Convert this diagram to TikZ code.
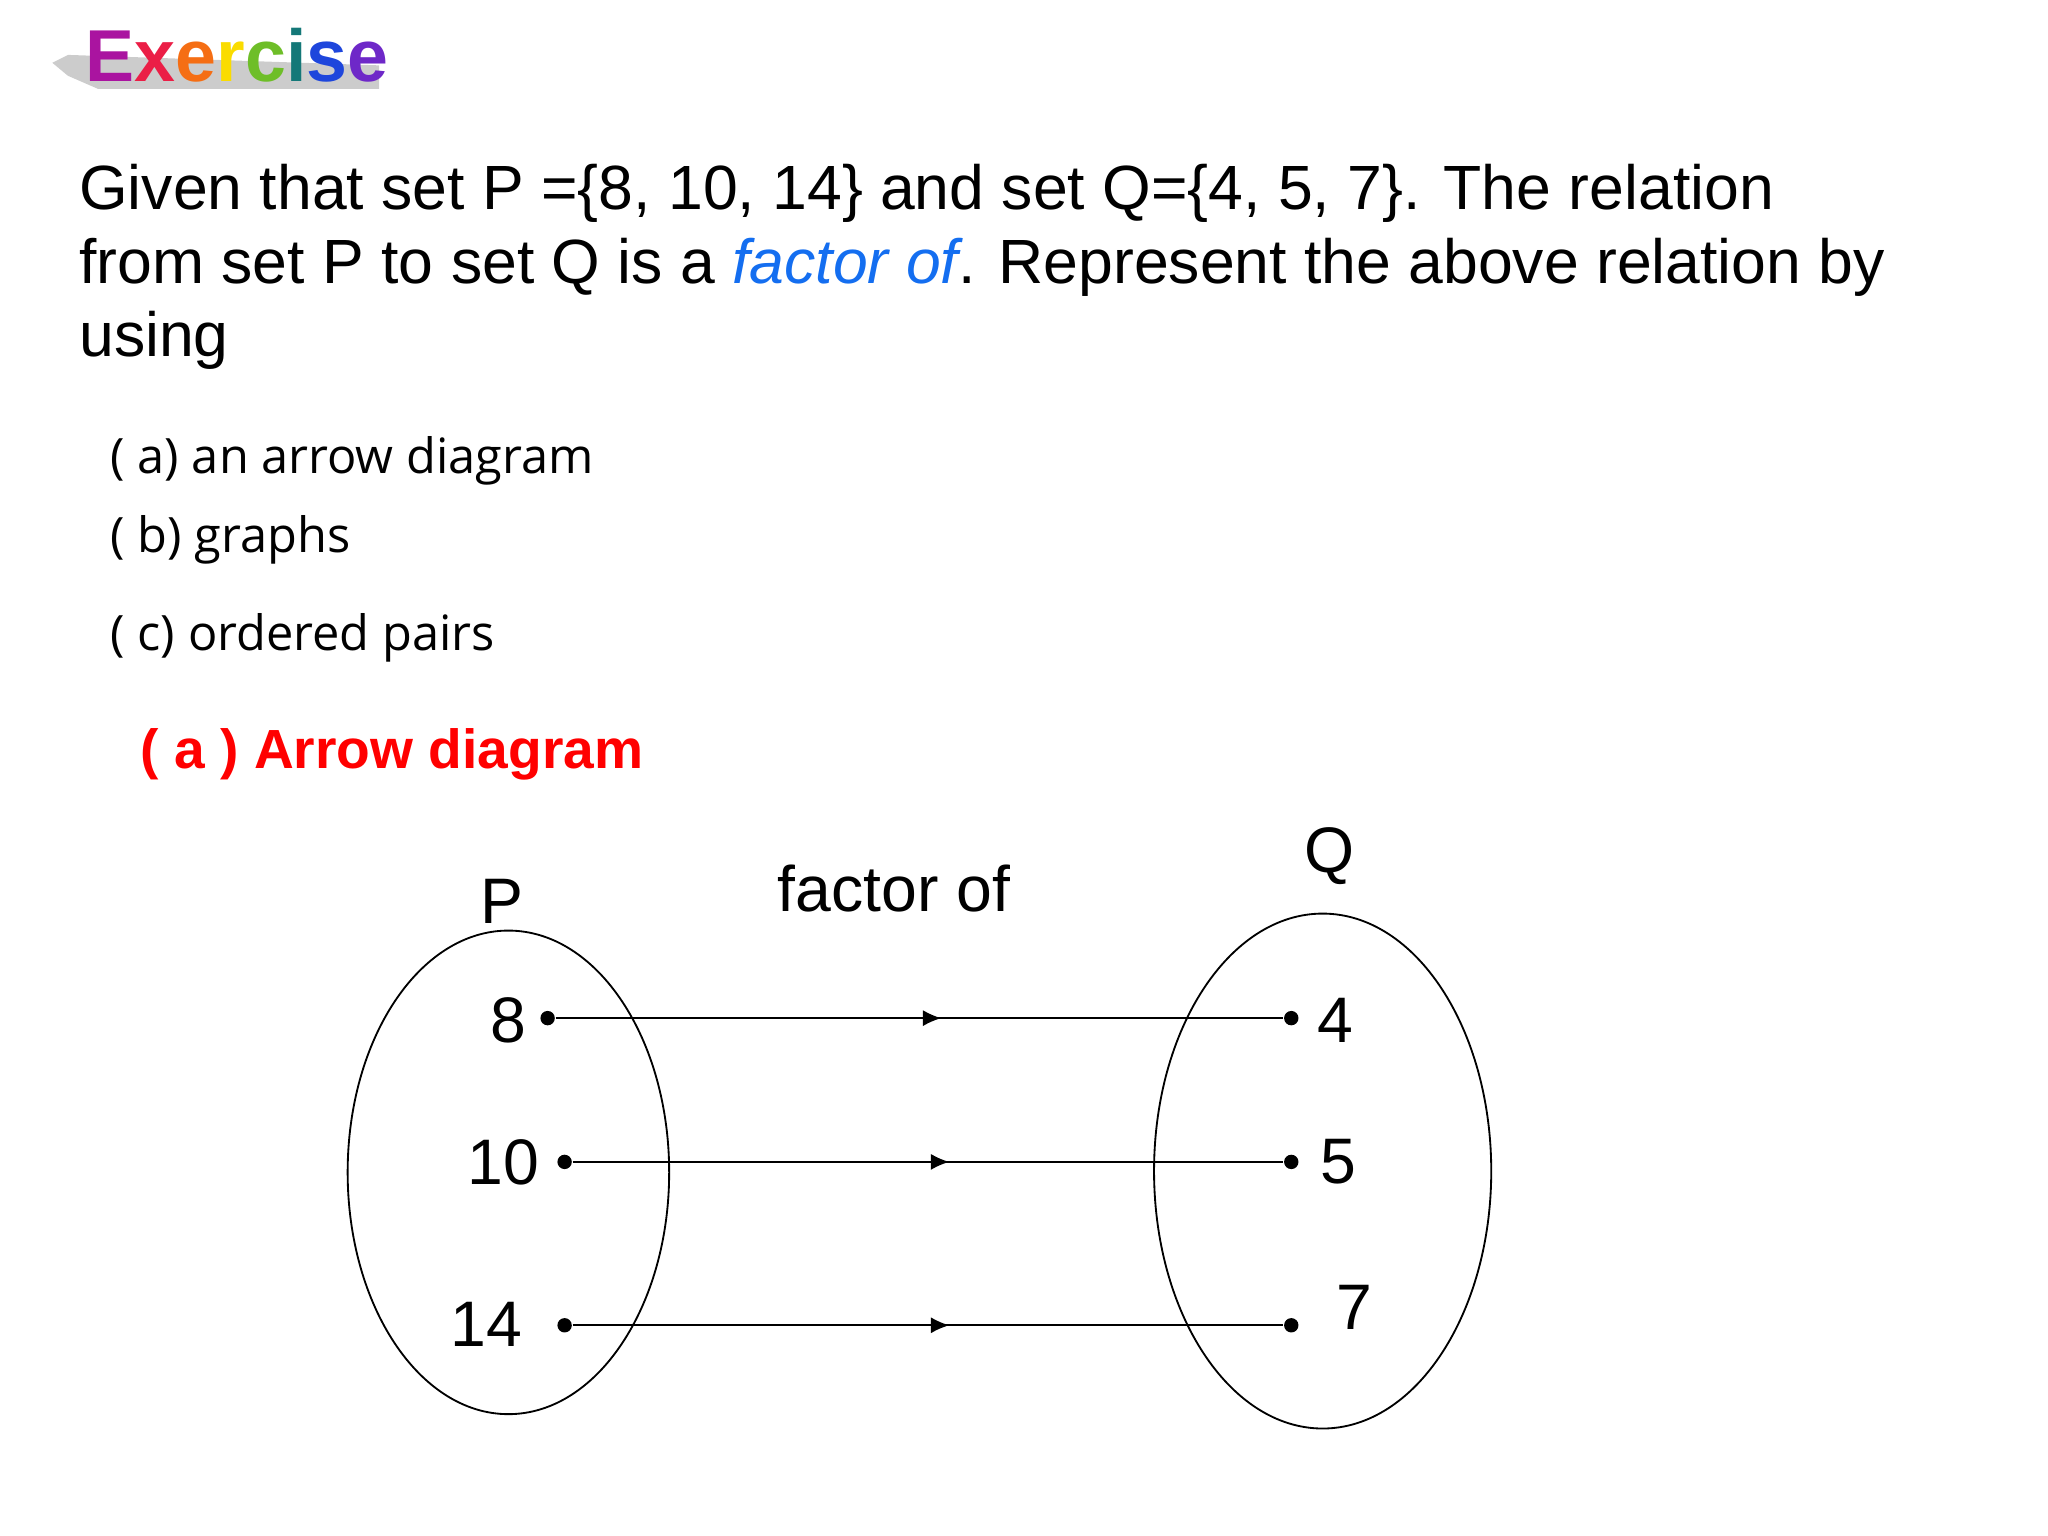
\documentclass[tikz,border=0pt]{standalone}
\usepackage{fontspec}
\setmainfont{Liberation Sans}
\newfontfamily\osans{Open Sans}
\usetikzlibrary{arrows.meta,decorations.markings}
\definecolor{fblue}{RGB}{20,110,240}
\tikzset{
 main/.style={anchor=base west,inner sep=0,font=\fontsize{13.6pt}{16pt}\selectfont},
 item/.style={anchor=base west,inner sep=0,font=\osans\fontsize{10.6pt}{13pt}\selectfont},
 num/.style={inner sep=0,font=\fontsize{14pt}{16pt}\selectfont},
 dot/.style={circle,fill=black,inner sep=0,minimum size=0.11cm},
 rel/.style={thin,decoration={markings,mark=at position 0.53 with {\arrow{Latex[length=4pt,width=3.5pt]}}},postaction=decorate},
}
\begin{document}
\begin{tikzpicture}[x=0.01cm,y=-0.01cm]
\useasboundingbox (0,0) rectangle (1567,1175);
% logo
\fill[gray!40] (40,48) -- (52,42) -- (290,50) -- (290,68) -- (75,68) -- (52,58) -- cycle;
\node (logo) [anchor=base west,inner sep=0,font=\bfseries\fontsize{16pt}{18pt}\selectfont] at (65,62)
 {\textcolor[RGB]{170,20,160}{E}\textcolor[RGB]{235,30,70}{x}\textcolor[RGB]{245,110,20}{e}\textcolor[RGB]{250,220,0}{r}\textcolor[RGB]{110,190,40}{c}\textcolor[RGB]{20,120,120}{i}\textcolor[RGB]{30,70,220}{s}\textcolor[RGB]{110,40,200}{e}};
% text
\node (l1) [main] at (60,160) {Given that set P =\{8, 10, 14\} and set Q=\{4, 5, 7\}. The relation};
\node (l2) [main] at (60,217) {from set P to set Q is a \textcolor{fblue}{\itshape factor of}. Represent the above relation by};
\node (l3) [main] at (60,273) {using};
\node (ia) [item] at (84,362) {( a) an arrow diagram};
\node (ib) [item] at (84,423) {( b) graphs};
\node (ic) [item] at (84,498) {( c) ordered pairs};
\node (head) [anchor=base west,inner sep=0,text=red,font=\bfseries\fontsize{12pt}{14pt}\selectfont] at (107,588) {( a ) Arrow diagram};
% diagram
\draw[thin] (389,897) ellipse [x radius=123, y radius=185];
\draw[thin] (1012,896) ellipse [x radius=129, y radius=197];
\node (P) [num] at (384,690) {P};
\node (Q) [num] at (1017,655) {Q};
\node (f) [num] at (684,680) {factor of};
\node (p8) [dot] at (419,779) {};
\node (p10) [dot] at (432,889) {};
\node (p14) [dot] at (432,1014) {};
\node (q4) [dot] at (988,779) {};
\node (q5) [dot] at (988,889) {};
\node (q7) [dot] at (988,1014) {};
\node [num] at (389,781) {8};
\node [num] at (385,889) {10};
\node [num] at (372,1013) {14};
\node [num] at (1022,781) {4};
\node [num] at (1024,889) {5};
\node [num] at (1036,1000) {7};
\draw[rel] (p8) -- (q4);
\draw[rel] (p10) -- (q5);
\draw[rel] (p14) -- (q7);
\end{tikzpicture}
\end{document}
